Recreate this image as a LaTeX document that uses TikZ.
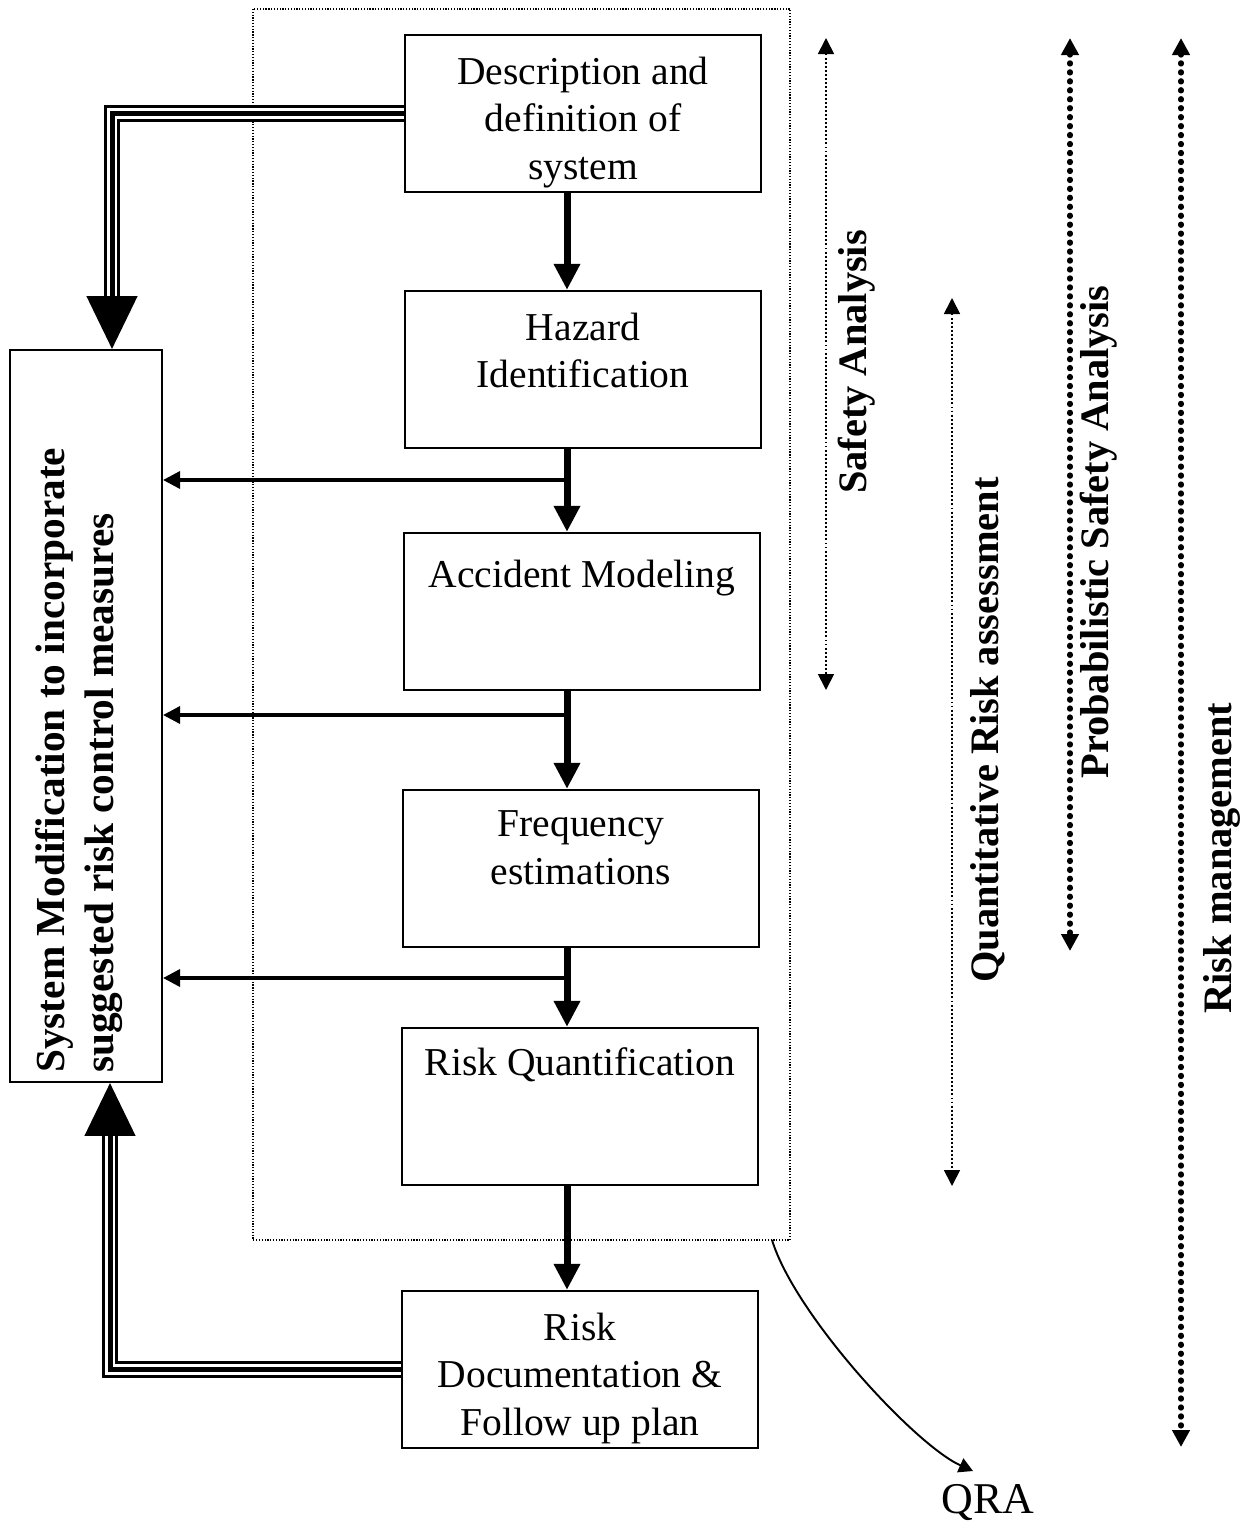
\documentclass[tikz,border=0pt]{standalone}
\usepackage{fontspec}
\setmainfont{Liberation Serif}
\usetikzlibrary{arrows.meta,calc}

\begin{document}
\begin{tikzpicture}[x=0.02cm,y=-0.02cm,
  box/.style={draw,line width=1.3pt,minimum width=7.12cm,minimum height=3.14cm,inner sep=0},
  boxtxt/.style={align=center,inner sep=0,font=\fontsize{22.5}{27}\selectfont,
    execute at begin node=\strut},
  sidebox/.style={draw,line width=1.2pt,minimum width=3.04cm,minimum height=14.64cm,inner sep=0},
  sidetxt/.style={align=left,inner sep=0,font=\fontsize{23.5}{27.5}\selectfont\bfseries},
  lbl/.style={inner sep=0,font=\fontsize{23}{27}\selectfont\bfseries},
  mainarrow/.style={line width=0.14cm,-{Triangle[width=0.5cm,length=0.52cm]}},
  fb/.style={line width=2pt,-{Triangle[width=0.34cm,length=0.34cm]}},
  triple/.style={line width=0.34cm,draw=black,
    postaction={draw=white,line width=0.22cm},
    postaction={draw=black,line width=0.1cm}},
  bighead/.style={line width=0.1cm,-{Triangle[width=1cm,length=1.06cm]}},
  fine range/.style={line width=1pt,dash pattern=on 1.1pt off 1.2pt,
    {Triangle[width=0.32cm,length=0.32cm]}-{Triangle[width=0.32cm,length=0.32cm]}},
  bold range/.style={line width=3pt,line cap=round,dash pattern=on 0.6pt off 4.5pt,
    {Triangle[width=0.34cm,length=0.34cm]}-{Triangle[width=0.34cm,length=0.34cm]}},
  qraframe/.style={line width=0.8pt,dash pattern=on 0.7pt off 0.9pt},
  qralink/.style={line width=1.1pt,-{Triangle[width=0.3cm,length=0.28cm]}}
]
\useasboundingbox (0,0) rectangle (1250,1529);

% frame around the QRA steps
\draw[qraframe] (253,9) rectangle (790,1240);

% process steps
\node[box] (b1) at (583,113.5) {};
\node[box] (b2) at (583,369.5) {};
\node[box] (b3) at (582,611.5) {};
\node[box] (b4) at (581,868.5) {};
\node[box] (b5) at (580,1106.5) {};
\node[box] (b6) at (580,1369.5) {};

\node[boxtxt,anchor=north] (t1) at ([yshift=-0.45cm]b1.north) {Description and\\definition of\\system};
\node[boxtxt,anchor=north] (t2) at ([yshift=-0.45cm]b2.north) {Hazard\\Identification};
\node[boxtxt,anchor=north] (t3) at ([yshift=-0.45cm]b3.north) {Accident Modeling};
\node[boxtxt,anchor=north] (t4) at ([yshift=-0.43cm]b4.north) {Frequency\\estimations};
\node[boxtxt,anchor=north] (t5) at ([yshift=-0.3cm]b5.north) {Risk Quantification};
\node[boxtxt,anchor=north] (t6) at ([yshift=-0.45cm]b6.north) {Risk\\Documentation \&\\Follow up plan};

% modification box on the left
\node[sidebox] (sm) at (86,716) {};
\node[sidetxt,rotate=90,anchor=west] (smt) at (79,1073)
  {System Modification to incorporate\\suggested risk control measures};

% main flow
\coordinate (ax) at (567,0);
\draw[mainarrow] (b1.south -| ax) -- (b2.north -| ax);
\draw[mainarrow] (b2.south -| ax) -- (b3.north -| ax);
\draw[mainarrow] (b3.south -| ax) -- (b4.north -| ax);
\draw[mainarrow] (b4.south -| ax) -- (b5.north -| ax);
\draw[mainarrow] (b5.south -| ax) -- (b6.north -| ax);

% feedback to the modification box
\coordinate (j1) at (567,480);
\coordinate (j2) at (567,715);
\coordinate (j3) at (567,978);
\draw[fb] (j1) -- (j1 -| sm.east);
\draw[fb] (j2) -- (j2 -| sm.east);
\draw[fb] (j3) -- (j3 -| sm.east);

% triple-line links
\coordinate (tA) at (112,297);
\draw[triple] (b1.west) -| (tA);
\draw[bighead] (tA) -- (tA |- sm.north);
\coordinate (tB) at (110,1135);
\draw[triple] (b6.west) -| (tB);
\draw[bighead] (tB) -- (tB |- sm.south);

% scope ranges
\coordinate (sa1) at (826,38);  \coordinate (sa2) at (826,690);
\coordinate (qa1) at (952,298); \coordinate (qa2) at (952,1186);
\coordinate (pa1) at (1070,38); \coordinate (pa2) at (1070,951);
\coordinate (rm1) at (1181,38); \coordinate (rm2) at (1181,1447);
\draw[fine range] (sa1) -- (sa2);
\draw[fine range] (qa1) -- (qa2);
\draw[bold range] (pa1) -- (pa2);
\draw[bold range] (rm1) -- (rm2);

\node[lbl,rotate=90] (lsa) at (857,362) {Safety Analysis};
\node[lbl,rotate=90] (lqa) at (988,730) {Quantitative Risk assessment};
\node[lbl,rotate=90] (lpa) at (1099,532) {Probabilistic Safety Analysis};
\node[lbl,rotate=90] (lrm) at (1222,858) {Risk management};

% QRA pointer
\node[inner sep=0,font=\fontsize{25}{30}\selectfont] (qra) at (988,1503) {QRA};
\coordinate (qs) at (772,1240);
\coordinate (qe) at (973,1471);
\draw[qralink] (qs) .. controls (795,1315) and (915,1445) .. (qe);
\end{tikzpicture}
\end{document}
